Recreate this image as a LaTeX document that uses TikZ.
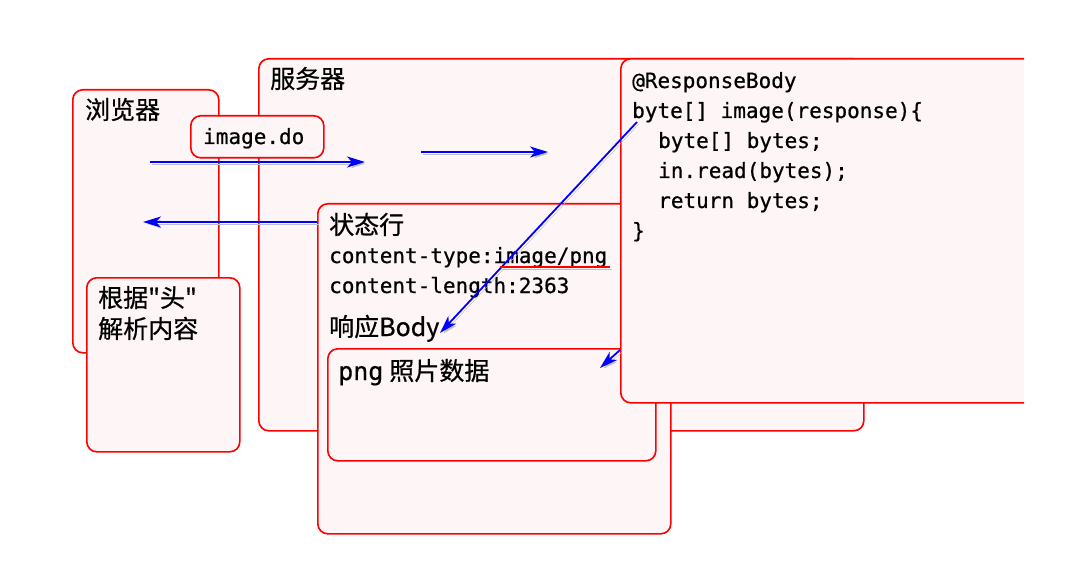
\documentclass[tikz,border=0pt]{standalone}
\usepackage{fontspec}
\setmonofont[FakeBold=0.6]{DejaVu Sans Mono}
\newfontfamily\cjk[FakeBold=0.6]{Noto Sans CJK SC}
\usetikzlibrary{arrows.meta}
\definecolor{boxpink}{RGB}{253,245,246}

\begin{document}
\begin{tikzpicture}[x=1pt,y=-1pt,
    box/.style={draw=red,line width=1.6pt,fill=boxpink,rounded corners=10pt,anchor=north west,inner sep=0pt},
    cn/.style={font=\cjk\fontsize{25}{31}\selectfont,anchor=base west,inner sep=0pt},
    code/.style={font=\ttfamily\fontsize{21}{30}\selectfont,anchor=base west,inner sep=0pt},
    flow/.style={draw=blue,line width=1.8pt,-{Stealth[length=18pt,width=11pt,inset=5pt]},
        preaction={draw=black!25,transform canvas={shift={(2pt,-2pt)}}}}]
    \useasboundingbox (0,0) rectangle (1071,564);

    % browser side
    \node[box,minimum width=146pt,minimum height=263pt] (browser) at (72,89) {};
    \node[cn] (browsertxt) at (85,119) {浏览器};
    \node[box,minimum width=153pt,minimum height=174pt] (parse) at (86,277) {};
    \node[cn] (parse1) at (98,307) {根据"头"};
    \node[cn] (parse2) at (98,338) {解析内容};

    % server side
    \node[box,minimum width=605pt,minimum height=372pt] (server) at (258,58) {};
    \node[cn] (servertxt) at (270,88) {服务器};
    \node[box,minimum width=133pt,minimum height=42pt] (req) at (190,115) {};
    \node[code] (reqtxt) at (203,144) {image.do};

    % response
    \node[box,minimum width=353pt,minimum height=330pt] (resp) at (317,203) {};
    \node[cn] (status) at (329,234) {状态行};
    \node[code] (ctype) at (329,263) {content-type:image/png};
    \node[code] (clen) at (329,293) {content-length:2363};
    \node[cn] (body) at (329,336) {响应Body};
    \node[box,minimum width=328pt,minimum height=112pt] (png) at (327,348) {};
    \node[cn] (pngtxt) at (338,380) {{\ttfamily png}\hspace{6pt}照片数据};

    % controller code
    \begin{scope}
        \clip (0,0) rectangle (1024,564);
        \node[box,minimum width=480pt,minimum height=344pt] (ctrl) at (620,58) {};
    \end{scope}
    \node[code] (c1) at (632,88) {@ResponseBody};
    \node[code] (c2) at (632,118) {byte[] image(response)\{};
    \node[code] (c3) at (658,148) {byte[] bytes;};
    \node[code] (c4) at (658,178) {in.read(bytes);};
    \node[code] (c5) at (658,208) {return bytes;};
    \node[code] (c6) at (632,238) {\}};

    % arrows
    \coordinate (go1) at (150,162);
    \coordinate (go2) at (365,162);
    \coordinate (go3) at (421,152);
    \coordinate (go4) at (548,152);
    \coordinate (back1) at (317,222);
    \coordinate (back2) at (143,222);
    \coordinate (src) at (637,122);
    \coordinate (dst) at (440,333);
    \coordinate (out1) at (620,350);
    \coordinate (out2) at (600,368);
    \draw[flow] (go1) -- (go2);
    \draw[flow] (go3) -- (go4);
    \draw[flow] (back1) -- (back2);
    \draw[flow] (src) -- (dst);
    \draw[flow] (out1) -- (out2);

    % underline of the type
    \coordinate (ul1) at (500,267);
    \coordinate (ul2) at (610,267);
    \draw[red,line width=2.6pt,preaction={draw=black!25,transform canvas={shift={(2pt,-2pt)}}}] (ul1) -- (ul2);
\end{tikzpicture}
\end{document}
